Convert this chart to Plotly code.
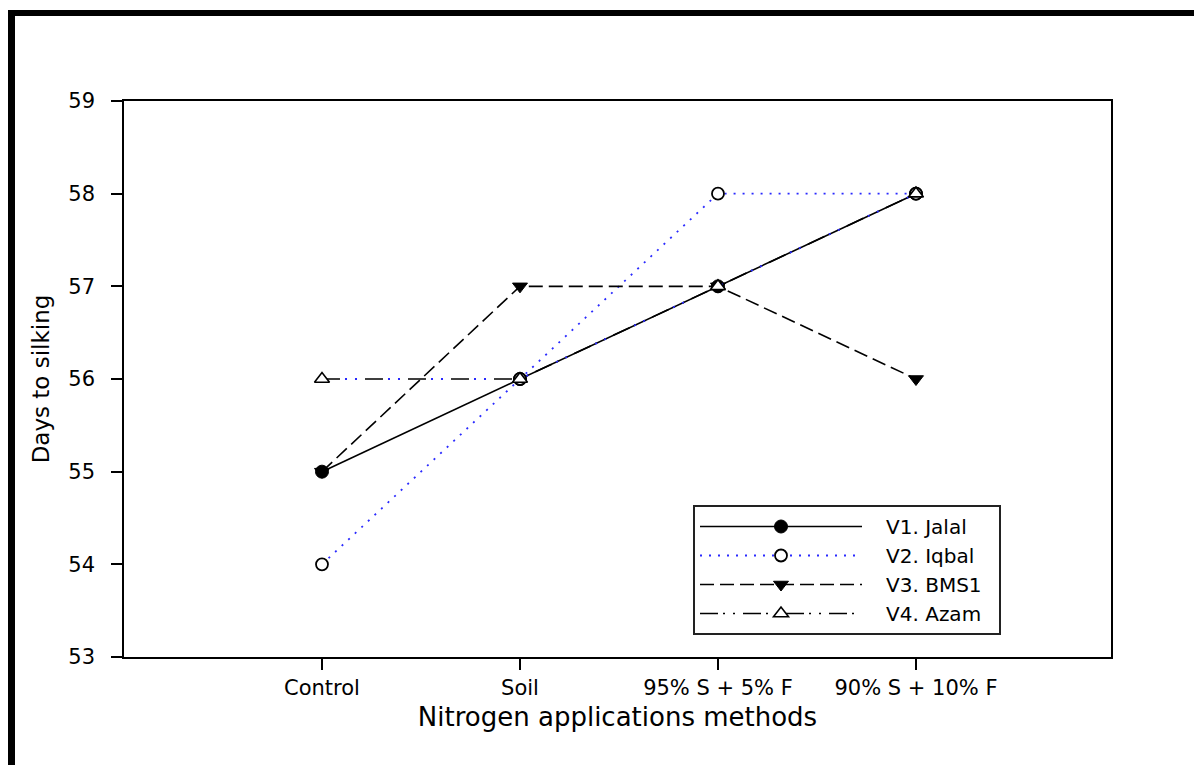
import plotly.graph_objects as go

categories = ["Control", "Soil", "95% S + 5% F", "90% S + 10% F"]
v1_jalal = [55, 56, 57, 58]
v2_iqbal = [54, 56, 58, 58]
v3_bms1 = [55, 57, 57, 56]
v4_azam = [56, 56, 57, 58]
y_ticks = [53, 54, 55, 56, 57, 58, 59]

FONT = "DejaVu Sans, Arial, sans-serif"
BLUE = "#2a2aff"
NB = "\u00a0"

fig = go.Figure()

fig.add_trace(go.Scatter(
    x=categories, y=v1_jalal, name=NB * 3 + "V1. Jalal", mode="lines+markers",
    line=dict(color="black", width=1.6, dash="solid"),
    marker=dict(symbol="circle", size=13, color="black", line=dict(color="black", width=1)),
))
fig.add_trace(go.Scatter(
    x=categories, y=v2_iqbal, name=NB * 3 + "V2. Iqbal", mode="lines+markers",
    line=dict(color=BLUE, width=1.8, dash="2px,7px"),
    marker=dict(symbol="circle", size=12, color="white", line=dict(color="black", width=1.8)),
))
fig.add_trace(go.Scatter(
    x=categories, y=v3_bms1, name=NB * 3 + "V3. BMS1", mode="lines+markers",
    line=dict(color="black", width=1.6, dash="14px,6px"),
    marker=dict(symbol="triangle-down", size=13, color="black", line=dict(color="black", width=1)),
))
fig.add_trace(go.Scatter(
    x=categories, y=v4_azam, name="V4. Azam", mode="lines",
    line=dict(color="black", width=1.6, dash="18px,5px,2px,8px,2px,8px"),
    showlegend=False, hoverinfo="skip",
))
fig.add_trace(go.Scatter(
    x=categories, y=v4_azam, name="V4. Azam", mode="lines+markers",
    line=dict(color=BLUE, width=1.8, dash="0px,23px,2px,8px,2px,8px"),
    marker=dict(symbol="triangle-up", size=13, color="white", line=dict(color="black", width=1.6)),
    showlegend=False,
))
# legend entry for V4 (dash-dot-dot)
fig.add_trace(go.Scatter(
    x=[None], y=[None], name=NB * 3 + "V4. Azam" + NB * 2, mode="lines+markers",
    line=dict(color="black", width=1.6, dash="18px,5px,2px,8px,2px,8px"),
    marker=dict(symbol="triangle-up", size=13, color="white", line=dict(color="black", width=1.6)),
))

OFF = 8  # default body margin of the page
W, H = 1202 - OFF, 765 - OFF
L, T = 124 - OFF, 101 - OFF
R = W - (1111 - OFF)
B = H - (657 - OFF)
pw = W - L - R
ph = H - T - B

def px_x(p):
    return (p - OFF - L) / pw

def px_y(p):
    return (H - B - (p - OFF)) / ph

fig.update_layout(
    width=W, height=H,
    margin=dict(l=L, r=R, t=T, b=B, pad=0),
    paper_bgcolor="white", plot_bgcolor="white",
    font=dict(family=FONT, color="black"),
    showlegend=True,
    legend=dict(
        x=px_x(693), y=px_y(570), xanchor="left", yanchor="middle",
        bgcolor="white", bordercolor="#222222", borderwidth=2,
        font=dict(family=FONT, size=20, color="black"),
        itemwidth=162, tracegroupgap=0,
    ),
    xaxis=dict(
        type="category", categoryorder="array", categoryarray=categories,
        range=[-1.0, 3.985],
        showline=True, linecolor="black", linewidth=1.5, mirror=True,
        ticks="outside", ticklen=11, tickwidth=1.5, tickcolor="black",
        showgrid=False, zeroline=False,
        tickfont=dict(family=FONT, size=21, color="black"),
        title=dict(text="Nitrogen applications methods", font=dict(family=FONT, size=26, color="black"), standoff=9),
        automargin=False,
    ),
    yaxis=dict(
        range=[53, 59], tickvals=y_ticks,
        showline=True, linecolor="black", linewidth=1.5, mirror=True,
        ticks="outside", ticklen=11, tickwidth=1.5, tickcolor="black",
        showgrid=False, zeroline=False,
        tickfont=dict(family=FONT, size=21, color="black"),
        ticklabelstandoff=12,
        title=dict(text="Days to silking", font=dict(family=FONT, size=23, color="black"), standoff=12),
        automargin=False,
    ),
    shapes=[
        dict(type="line", xref="paper", yref="paper",
             x0=px_x(11), x1=px_x(11), y0=px_y(10), y1=px_y(780),
             line=dict(color="black", width=8)),
        dict(type="line", xref="paper", yref="paper",
             x0=px_x(7), x1=px_x(1220), y0=px_y(13), y1=px_y(13),
             line=dict(color="black", width=6)),
    ],
)

fig.write_html("out.html")
